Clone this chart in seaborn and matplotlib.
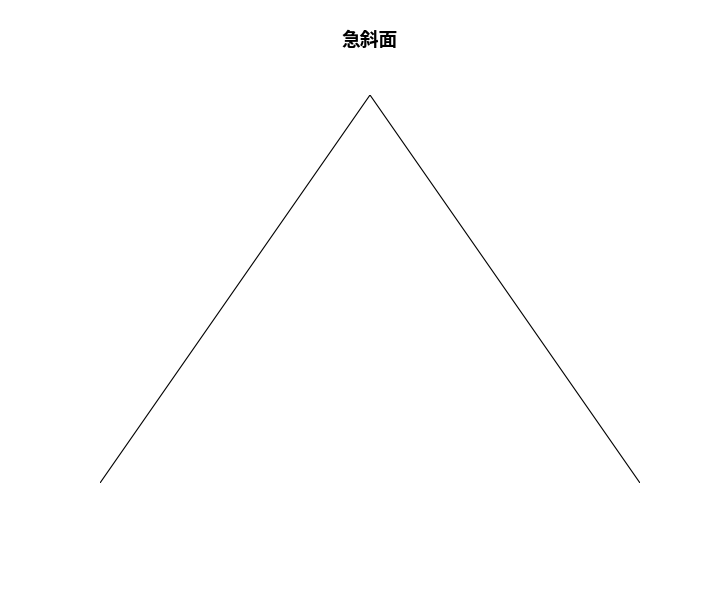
import numpy as np
import pandas as pd
import matplotlib
matplotlib.use('Agg')
import matplotlib.pyplot as plt
import seaborn as sns

# slope profile: left foot, summit, right foot
x_vals = [0, 1, 2]
y_vals = [0, 1, 0]
title = '急斜面'

df = pd.DataFrame({'x': x_vals, 'y': y_vals})

sns.set_style('white')
plt.rcParams['font.family'] = ['Noto Sans CJK JP', 'DejaVu Sans']

fig = plt.figure(figsize=(7.02, 5.97), dpi=100)
W, H = 702, 597
ax = fig.add_axes([100 / W, 1 - 483 / H, 540 / W, 388 / H])
sns.lineplot(data=df, x='x', y='y', sort=False, color='black', linewidth=0.8, ax=ax)
ax.set_xlim(min(x_vals), max(x_vals))
ax.set_ylim(min(y_vals), max(y_vals))
ax.axis('off')

fig.text(370 / W, 1 - 40 / H, title, ha='center', va='center',
         fontsize=13.5, fontweight='bold', color='black')

fig.savefig('out.png', dpi=100, facecolor='white')
